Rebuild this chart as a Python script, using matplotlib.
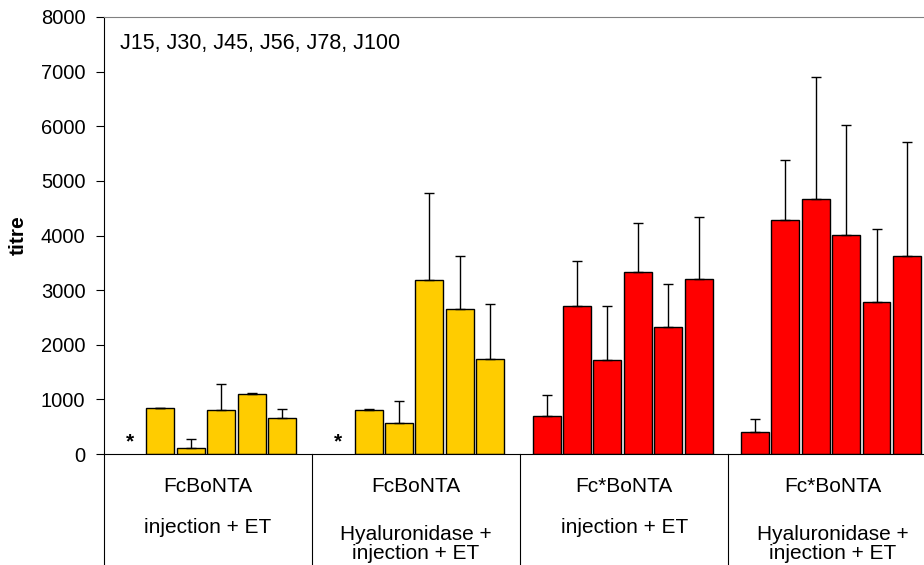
import matplotlib.pyplot as plt
import matplotlib.transforms as mtransforms
import numpy as np

plt.rcParams['font.family'] = ['Liberation Sans', 'DejaVu Sans']

days = ["J15", "J30", "J45", "J56", "J78", "J100"]
groups = [("FcBoNTA", "injection + ET"),
          ("FcBoNTA", "Hyaluronidase +\ninjection + ET"),
          ("Fc*BoNTA", "injection + ET"),
          ("Fc*BoNTA", "Hyaluronidase +\ninjection + ET")]
colors = ["#FFCC00", "#FFCC00", "#FF0000", "#FF0000"]

# moyennes (titre) par groupe, J15..J100
means = [
    [0, 845, 115, 805, 1090, 665],
    [0, 810, 560, 3185, 2650, 1740],
    [700, 2710, 1715, 3325, 2325, 3195],
    [400, 4290, 4675, 4015, 2775, 3620],
]
# haut des barres d'erreur
err_top = [
    [0, 850, 275, 1280, 1110, 820],
    [0, 815, 975, 4775, 3630, 2740],
    [1075, 3525, 2705, 4225, 3120, 4340],
    [640, 5390, 6900, 6030, 4110, 5710],
]
stars = [True, True, False, False]

fig = plt.figure(figsize=(9.24, 5.65), dpi=100)
# l'axe déborde à droite comme dans l'original (coupé)
ax = fig.add_axes([103.5 / 924, 111 / 565, 833.2 / 924, 437 / 565])

pitch = 0.146
width = 0.1344
for g in range(4):
    xs = g - 0.008 + (np.arange(6) - 2.5) * pitch
    m = np.array(means[g])
    e = np.array(err_top[g]) - m
    show = m > 0
    ax.bar(xs[show], m[show], width=width, color=colors[g], edgecolor="black",
           linewidth=1, zorder=2)
    ax.errorbar(xs[show], m[show], yerr=[np.zeros(show.sum()), e[show]],
                fmt="none", ecolor="black", elinewidth=1, capsize=3.5,
                capthick=1, zorder=3)
    if stars[g]:
        ax.text(xs[0], 230, "*", ha="center", va="center", fontsize=15,
                fontweight="bold")

ax.set_xlim(-0.5, 3.5)
ax.set_ylim(0, 8000)
ax.set_yticks(range(0, 8001, 1000))
ax.set_xticks([])
ax.tick_params(axis="y", direction="out", length=6, labelsize=14.5, pad=7)
ax.spines["top"].set_color("#808080")
ax.spines["right"].set_visible(False)
fig.text(18 / 924, 0.584, "titre", rotation=90, ha="center", va="center",
         fontsize=15, fontweight="bold")

ax.text(0.0198, 0.9268, ", ".join(days), transform=ax.transAxes, fontsize=15.5,
        va="baseline", ha="left")

# tableau des catégories sous l'axe
trans = mtransforms.blended_transform_factory(ax.transData, ax.transAxes)
for b in range(4):
    ax.plot([b - 0.5, b - 0.5], [0, -0.26], color="black", linewidth=0.8,
            transform=trans, clip_on=False)
for g, (name, desc) in enumerate(groups):
    ax.text(g, -0.0881, name, transform=trans, ha="center", va="baseline",
            fontsize=15)
    lines = desc.split("\n")
    ys = [-0.1819] if len(lines) == 1 else [-0.1979, -0.2414]
    for line, yy in zip(lines, ys):
        ax.text(g, yy, line, transform=trans, ha="center", va="baseline",
                fontsize=15)

fig.savefig("out.png", dpi=100)
